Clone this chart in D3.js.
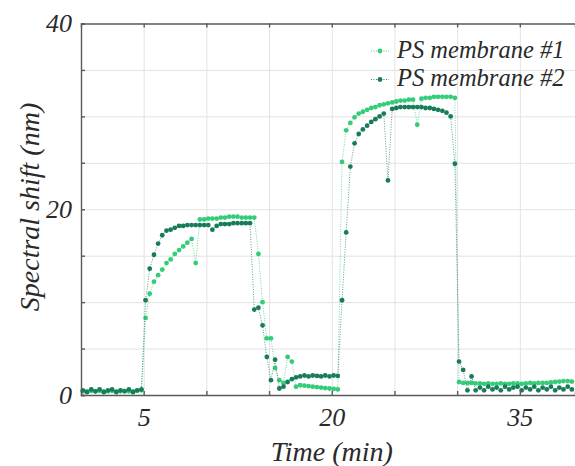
<!DOCTYPE html>
<html>
  <head>
    <meta charset="utf-8">
    <script src="https://d3js.org/d3.v7.min.js"></script>
    <style>
      body { margin: 0; background: white; }
      .grid line { stroke: #e3e3e3; stroke-width: 1px; }
      .grid path { display: none; }
      .frame path, .frame line { stroke: #5a5a5a; stroke-width: 1.4px; }
      .tick-label text, .lbl {
        font-family: "Liberation Serif", "Times New Roman", serif;
        font-style: italic;
        fill: #2a2a2a;
      }
    </style>
  </head>
  <body>
    <div id="chart"></div>
<script>

// sampling times (min)
var timeMin = [
  0.15, 0.48, 0.82, 1.15, 1.48, 1.82, 2.15, 2.48, 2.82, 3.15, 3.48, 3.82,
  4.15, 4.48, 4.82, 5.15, 5.48, 5.82, 6.15, 6.48, 6.82, 7.15, 7.48, 7.82,
  8.15, 8.48, 8.82, 9.15, 9.48, 9.82, 10.15, 10.48, 10.82, 11.15, 11.48, 11.82,
  12.15, 12.48, 12.82, 13.15, 13.48, 13.82, 14.15, 14.48, 14.82, 15.15, 15.48, 15.82,
  16.15, 16.48, 16.82, 17.15, 17.48, 17.82, 18.15, 18.48, 18.82, 19.15, 19.48, 19.82,
  20.15, 20.48, 20.82, 21.15, 21.48, 21.82, 22.15, 22.48, 22.82, 23.15, 23.48, 23.82,
  24.15, 24.48, 24.82, 25.15, 25.48, 25.82, 26.15, 26.48, 26.82, 27.15, 27.48, 27.82,
  28.15, 28.48, 28.82, 29.15, 29.48, 29.82, 30.15, 30.48, 30.82, 31.15, 31.48, 31.82,
  32.15, 32.48, 32.82, 33.15, 33.48, 33.82, 34.15, 34.48, 34.82, 35.15, 35.48, 35.82,
  36.15, 36.48, 36.82, 37.15, 37.48, 37.82, 38.15, 38.48, 38.82, 39.15
];

// PS membrane #1 (nm)
var membrane1 = [
  0.4, 0.4, 0.45, 0.4, 0.45, 0.4, 0.4, 0.45, 0.4, 0.4, 0.45, 0.4, 0.4, 0.45, 0.5,
  8.3, 10.9, 12.2, 12.9, 13.5, 14.2, 14.6, 15.2, 15.6, 16.0, 16.4, 16.8,
  14.2,
  18.9, 18.9, 19.0, 19.0, 19.0, 19.1, 19.1, 19.2, 19.2, 19.2, 19.1, 19.1, 19.1,
  19.1,
  15.2, 10.0, 6.1, 6.1, 2.9, 1.6, 1.3, 4.1, 3.6, 0.9,
  1.05, 1.0, 0.95, 0.9, 0.85, 0.8, 0.75, 0.7, 0.65, 0.6,
  25.1, 28.5, 29.3, 29.9, 30.3, 30.5, 30.7, 30.9, 31.0, 31.2, 31.3, 31.4, 31.5, 31.6,
  31.7, 31.7, 31.8, 31.8, 29.1, 31.9, 32.0, 32.0, 32.1, 32.1, 32.1, 32.1, 32.1, 32.0,
  1.4, 1.3, 1.3, 1.3, 1.25, 1.25, 1.2, 1.25, 1.2, 1.2, 1.25, 1.2, 1.2, 1.25,
  1.25, 1.2, 1.25, 1.3, 1.25, 1.3, 1.3, 1.3, 1.35, 1.4, 1.45, 1.5, 1.5, 1.45
];

// PS membrane #2 (nm)
var membrane2 = [
  0.5, 0.3, 0.6, 0.4, 0.6, 0.3, 0.5, 0.6, 0.3, 0.5, 0.4, 0.6, 0.3, 0.5, 0.6,
  10.2, 13.6, 15.1, 16.3, 17.2, 17.7, 17.8, 18.0,
  18.2, 18.2, 18.3, 18.3, 18.3, 18.3, 18.3, 18.3, 17.8, 18.2, 18.4, 18.4, 18.4, 18.5,
  18.5, 18.5, 18.5, 18.5,
  9.2, 9.4, 7.5, 4.1, 1.6, 3.8, 0.7, 0.9, 1.4, 1.7, 1.9,
  2.0, 2.1, 2.0, 2.1, 2.05, 2.0, 2.1, 2.0, 2.1, 2.05,
  10.2, 17.5, 24.6, 27.1, 28.1, 28.6, 29.0, 29.4, 29.7, 30.0, 30.3, 23.1, 30.8, 30.9,
  31.0, 31.0, 31.0, 31.0, 31.0, 31.0, 30.9, 30.9, 30.8, 30.7, 30.6, 30.4, 30.0, 24.9,
  3.6, 2.7, 0.5, 2.0, 0.5, 0.8, 0.5, 0.9, 0.6, 0.8, 0.5, 0.9, 0.6, 0.8,
  0.9, 0.5, 0.8, 0.6, 0.9, 0.5, 0.8, 0.6, 0.9, 0.5, 0.8, 0.6, 0.9, 0.6
];

var seriesNames = ["PS membrane #1", "PS membrane #2"];
var seriesColors = ["#34cc78", "#187b59"];
var xTicks = [5, 10, 15, 20, 25, 30, 35];
var xLabels = [5, 20, 35];
var yTicks = [0, 5, 10, 15, 20, 25, 30, 35, 40];
var yLabels = [0, 20, 40];

var width = 575, height = 466;
var plotL = 81, plotT = 23.5, plotR = 575, plotB = 395;

var svg = d3.select("#chart").append("svg")
  .attr("width", width)
  .attr("height", height);

var x = d3.scaleLinear().domain([0, 39.4]).range([plotL, plotR]);
var y = d3.scaleLinear().domain([0, 40]).range([plotB, plotT]);

// grid
svg.append("g")
  .attr("class", "grid")
  .attr("transform", "translate(0," + plotB + ")")
  .call(d3.axisBottom(x).tickValues(xTicks).tickSize(-(plotB - plotT)).tickFormat(""));
svg.append("g")
  .attr("class", "grid")
  .attr("transform", "translate(" + plotL + ",0)")
  .call(d3.axisLeft(y).tickValues(yTicks.slice(1, -1)).tickSize(-(plotR - plotL)).tickFormat(""));

// series
var series = [membrane1, membrane2];
series.forEach(function(vals, k) {
  var pts = timeMin.map(function(t, i) { return [t, vals[i]]; });
  var line = d3.line()
    .x(function(d) { return x(d[0]); })
    .y(function(d) { return y(d[1]); });
  svg.append("path")
    .datum(pts)
    .attr("d", line)
    .attr("fill", "none")
    .attr("stroke", seriesColors[k])
    .attr("stroke-width", 0.9)
    .attr("stroke-dasharray", "1,1.5")
    .attr("opacity", 0.8);
  svg.append("g").selectAll("circle")
    .data(pts)
    .enter()
    .append("circle")
    .attr("cx", function(d) { return x(d[0]); })
    .attr("cy", function(d) { return y(d[1]); })
    .attr("r", 2.4)
    .attr("fill", seriesColors[k]);
});

// frame + ticks
svg.append("g")
  .attr("class", "frame tick-label")
  .attr("transform", "translate(0," + plotB + ")")
  .call(d3.axisBottom(x).tickValues(xTicks).tickSize(-4).tickPadding(13)
    .tickFormat(function(d) { return xLabels.indexOf(d) >= 0 ? d : ""; }))
  .call(function(g) { g.selectAll("text").style("font-size", "26px"); });
svg.append("g")
  .attr("class", "frame")
  .attr("transform", "translate(0," + plotT + ")")
  .call(d3.axisTop(x).tickValues(xTicks).tickSize(-4).tickFormat(""));
svg.append("g")
  .attr("class", "frame tick-label")
  .attr("transform", "translate(" + plotL + ",0)")
  .call(d3.axisLeft(y).tickValues(yTicks).tickSize(-4).tickPadding(9)
    .tickFormat(function(d) { return yLabels.indexOf(d) >= 0 ? d : ""; }))
  .call(function(g) { g.selectAll("text").style("font-size", "26px"); });
svg.selectAll(".tick-label text").attr("fill", "#2a2a2a");

// axis titles
svg.append("text")
  .attr("class", "lbl")
  .attr("x", x(20))
  .attr("y", 461)
  .attr("text-anchor", "middle")
  .style("font-size", "28px")
  .text("Time (min)");
svg.append("text")
  .attr("class", "lbl")
  .attr("transform", "translate(39,207) rotate(-90)")
  .attr("text-anchor", "middle")
  .style("font-size", "28px")
  .text("Spectral shift (nm)");

// legend
seriesNames.forEach(function(name, k) {
  var ly = 51 + k * 28.5;
  svg.append("line")
    .attr("x1", 371).attr("x2", 389)
    .attr("y1", ly).attr("y2", ly)
    .attr("stroke", seriesColors[k])
    .attr("stroke-width", 0.9)
    .attr("stroke-dasharray", "1,1.5");
  svg.append("circle")
    .attr("cx", 380).attr("cy", ly).attr("r", 2.4)
    .attr("fill", seriesColors[k]);
  svg.append("text")
    .attr("class", "lbl")
    .attr("x", 397)
    .attr("y", ly + 6.5)
    .style("font-size", "24.5px")
    .text(name);
});

</script>
  </body>
</html>
